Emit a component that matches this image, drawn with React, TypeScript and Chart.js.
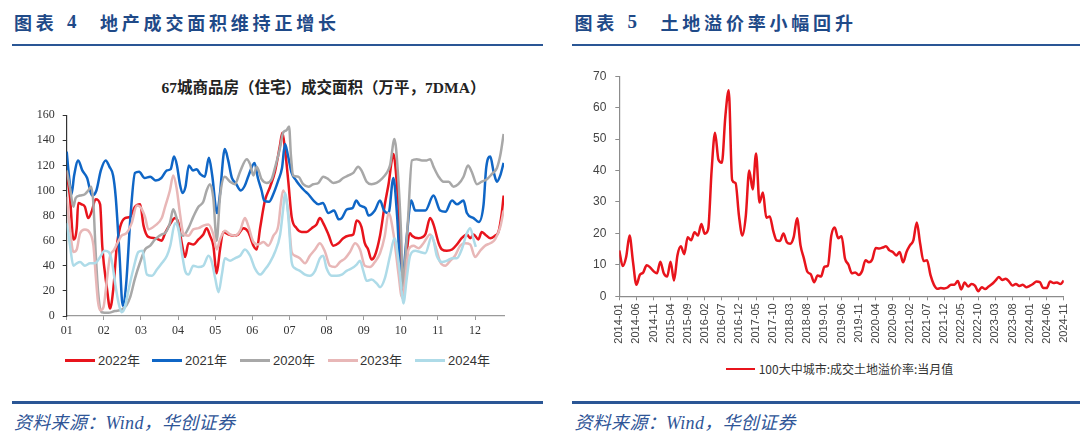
import React, { useEffect, useRef } from 'react';
import { Chart, registerables } from 'chart.js';

Chart.register(...registerables);

// ---------- Left chart: 67城商品房（住宅）成交面积（万平，7DMA） ----------
const monthLabels = ['01', '02', '03', '04', '05', '06', '07', '08', '09', '10', '11', '12'];
const seriesNames = ['2022年', '2021年', '2020年', '2023年', '2024年'];

// x positions are in "months since Jan 1" (0 = 01, 11 = 12)
const x2022 = [0, 0.09, 0.18, 0.27, 0.31, 0.4, 0.49, 0.58, 0.67, 0.78, 0.9, 0.96, 1.08, 1.17, 1.26, 1.35, 1.44, 1.57, 1.71, 1.84, 1.98, 2.07, 2.2, 2.38, 2.56, 2.65, 2.78, 2.92, 3.01, 3.1, 3.19, 3.28, 3.41, 3.55, 3.68, 3.77, 3.86, 3.95, 4.04, 4.13, 4.22, 4.35, 4.49, 4.62, 4.76, 4.89, 5.03, 5.12, 5.21, 5.34, 5.48, 5.61, 5.74, 5.81, 5.88, 5.97, 6.06, 6.19, 6.33, 6.46, 6.6, 6.73, 6.82, 6.91, 7.05, 7.18, 7.32, 7.45, 7.59, 7.72, 7.81, 7.94, 8.03, 8.12, 8.21, 8.3, 8.44, 8.57, 8.67, 8.8, 8.89, 8.98, 9.03, 9.12, 9.25, 9.3, 9.48, 9.66, 9.79, 9.88, 10.02, 10.11, 10.24, 10.38, 10.51, 10.64, 10.78, 10.87, 10.96, 11.09, 11.18, 11.27, 11.41, 11.54, 11.63, 11.72, 11.77];
const y2022 = [115, 94, 61, 70, 90, 89, 87, 78, 83, 93, 89, 55, 23, 6, 23, 56, 71, 78, 79, 87, 89, 72, 63, 62, 60, 66, 73, 78, 74, 58, 47, 58, 57, 61, 65, 70, 64, 56, 34, 53, 67, 65, 64, 65, 70, 67, 56, 53, 70, 92, 103, 115, 135, 146, 133, 107, 79, 70, 67, 67, 70, 73, 78, 74, 65, 56, 58, 62, 64, 65, 76, 71, 58, 53, 45, 48, 64, 89, 105, 129, 107, 64, 15, 40, 66, 64, 62, 65, 78, 73, 58, 53, 52, 53, 57, 62, 65, 62, 65, 61, 67, 65, 62, 64, 67, 82, 96];

const x2021 = [0, 0.06, 0.13, 0.2, 0.31, 0.42, 0.55, 0.68, 0.8, 0.92, 1.05, 1.15, 1.25, 1.32, 1.42, 1.51, 1.6, 1.72, 1.84, 1.95, 2.1, 2.25, 2.4, 2.55, 2.7, 2.8, 2.89, 2.97, 3.05, 3.12, 3.2, 3.29, 3.4, 3.5, 3.6, 3.72, 3.83, 3.92, 4.05, 4.12, 4.26, 4.35, 4.45, 4.55, 4.69, 4.8, 4.9, 5.06, 5.15, 5.25, 5.32, 5.45, 5.55, 5.7, 5.8, 5.88, 5.96, 6.06, 6.18, 6.28, 6.4, 6.51, 6.65, 6.78, 6.9, 7.05, 7.2, 7.33, 7.41, 7.55, 7.7, 7.8, 7.9, 8.05, 8.13, 8.3, 8.44, 8.55, 8.67, 8.8, 8.9, 9.02, 9.15, 9.28, 9.39, 9.55, 9.66, 9.88, 10.06, 10.2, 10.38, 10.51, 10.69, 10.78, 10.96, 11.1, 11.23, 11.3, 11.41, 11.5, 11.59, 11.68, 11.77];
const y2021 = [131, 112, 97, 112, 124, 116, 110, 96, 100, 116, 124, 119, 112, 95, 50, 8, 25, 80, 114, 115, 110, 111, 108, 110, 116, 117, 127, 120, 105, 98, 103, 120, 116, 117, 113, 111, 126, 112, 82, 95, 133, 124, 110, 106, 100, 104, 112, 122, 110, 100, 92, 91, 96, 108, 118, 137, 128, 114, 108, 104, 100, 97, 92, 89, 90, 82, 84, 77, 78, 85, 86, 92, 88, 86, 80, 84, 92, 84, 82, 110, 80, 23, 60, 92, 84, 84, 84, 96, 84, 83, 92, 89, 92, 82, 78, 75, 89, 118, 127, 115, 107, 112, 122];

const x2020 = [0, 0.09, 0.18, 0.24, 0.36, 0.49, 0.58, 0.66, 0.72, 0.78, 0.85, 0.94, 1.12, 1.3, 1.48, 1.61, 1.71, 1.84, 1.98, 2.11, 2.25, 2.38, 2.56, 2.65, 2.78, 2.87, 2.96, 3.05, 3.14, 3.28, 3.41, 3.55, 3.68, 3.77, 3.86, 3.95, 4.04, 4.13, 4.26, 4.4, 4.53, 4.67, 4.85, 4.94, 5.03, 5.12, 5.25, 5.39, 5.52, 5.61, 5.74, 5.83, 5.92, 5.99, 6.04, 6.1, 6.24, 6.37, 6.51, 6.64, 6.78, 6.91, 7.05, 7.18, 7.32, 7.45, 7.59, 7.72, 7.85, 7.94, 8.08, 8.21, 8.35, 8.48, 8.62, 8.71, 8.83, 8.92, 9.01, 9.06, 9.12, 9.19, 9.3, 9.43, 9.57, 9.7, 9.79, 9.88, 10.02, 10.15, 10.29, 10.42, 10.55, 10.69, 10.81, 10.91, 11.05, 11.18, 11.32, 11.45, 11.59, 11.68, 11.77];
const y2020 = [116, 102, 87, 94, 96, 97, 100, 103, 89, 51, 18, 3, 2.5, 4, 5, 8.5, 15, 30, 43, 53, 56, 61, 65, 66, 74, 85, 78, 66, 64, 70, 79, 87, 91, 100, 105, 94, 60, 95, 111, 107, 105, 115, 125, 121, 112, 119, 109, 106, 109, 118, 133, 146, 148, 151, 128, 112, 111, 105, 103, 105, 106, 111, 109, 106, 107, 110, 112, 114, 119, 116, 107, 105, 106, 109, 114, 120, 141, 115, 64, 22, 45, 75, 124, 125, 124, 124, 125, 119, 111, 107, 107, 103, 105, 111, 120, 115, 105, 107, 109, 113, 118, 128, 145];

const x2023 = [0, 0.09, 0.18, 0.27, 0.36, 0.49, 0.63, 0.72, 0.78, 0.84, 0.9, 0.99, 1.08, 1.17, 1.26, 1.35, 1.48, 1.61, 1.75, 1.89, 1.98, 2.11, 2.2, 2.38, 2.56, 2.65, 2.78, 2.87, 2.96, 3.05, 3.14, 3.28, 3.41, 3.55, 3.68, 3.82, 3.95, 4.04, 4.13, 4.26, 4.4, 4.53, 4.67, 4.8, 4.89, 5.03, 5.16, 5.3, 5.43, 5.57, 5.7, 5.77, 5.83, 5.97, 6.06, 6.15, 6.28, 6.42, 6.55, 6.69, 6.82, 6.96, 7.09, 7.23, 7.36, 7.5, 7.63, 7.77, 7.9, 8.03, 8.17, 8.3, 8.44, 8.57, 8.67, 8.8, 8.94, 9.03, 9.12, 9.21, 9.34, 9.48, 9.61, 9.79, 9.93, 10.06, 10.2, 10.33, 10.46, 10.6, 10.73, 10.87, 11.0, 11.14, 11.27, 11.41, 11.54, 11.68, 11.77];
const y2023 = [95, 69, 51, 53, 66, 69, 66, 56, 33, 12, 4.6, 7, 28, 48, 52, 57, 64, 66, 74, 88, 87, 79, 69, 72, 78, 87, 100, 112, 102, 82, 66, 64, 69, 70, 72, 73, 65, 53, 61, 68, 65, 64, 68, 78, 72, 59, 57, 59, 56, 64, 72, 90, 100, 82, 51, 48, 46, 42, 48, 53, 58, 51, 40, 39, 43, 46, 51, 58, 53, 40, 39, 43, 50, 64, 82, 66, 33, 15, 28, 53, 56, 54, 58, 65, 56, 43, 40, 44, 48, 56, 58, 57, 47, 52, 56, 58, 61, 71, 84];

const x2024 = [0, 0.09, 0.18, 0.27, 0.36, 0.49, 0.63, 0.76, 0.9, 1.02, 1.13, 1.22, 1.31, 1.4, 1.48, 1.57, 1.66, 1.8, 1.93, 2.04, 2.16, 2.29, 2.43, 2.56, 2.7, 2.79, 2.92, 3.01, 3.1, 3.19, 3.28, 3.41, 3.55, 3.68, 3.82, 3.91, 4.0, 4.09, 4.18, 4.26, 4.4, 4.53, 4.67, 4.8, 4.94, 5.07, 5.21, 5.34, 5.48, 5.61, 5.75, 5.83, 5.88, 5.97, 6.06, 6.15, 6.28, 6.42, 6.55, 6.69, 6.82, 6.91, 7.0, 7.14, 7.27, 7.41, 7.54, 7.68, 7.81, 7.9, 7.99, 8.08, 8.21, 8.35, 8.44, 8.57, 8.71, 8.83, 8.94, 9.03, 9.07, 9.16, 9.25, 9.39, 9.52, 9.66, 9.84, 9.97, 10.11, 10.24, 10.38, 10.51, 10.64, 10.78, 10.87, 10.96, 11.02];
const y2024 = [74, 56, 40, 42, 43, 40, 42, 42, 47, 52, 51, 43, 25, 10, 3, 7, 20, 38, 51, 52, 33, 32, 37, 42, 48, 56, 74, 69, 51, 36, 33, 40, 39, 40, 48, 43, 30, 19, 33, 46, 44, 46, 48, 53, 48, 38, 33, 37, 43, 51, 65, 85, 98, 79, 43, 38, 36, 33, 32, 36, 46, 48, 38, 32, 32, 33, 36, 38, 41, 44, 36, 28, 29, 26, 23, 30, 48, 62, 43, 18, 10, 30, 48, 52, 51, 50, 64, 48, 43, 44, 46, 46, 53, 66, 70, 61, 55];

const leftYTicks = [0, 20, 40, 60, 80, 100, 120, 140, 160];

// ---------- Right chart: 100大中城市:成交土地溢价率:当月值 (2014-01 .. 2024-11, monthly) ----------
const landTickLabels = ['2014-01', '2014-06', '2014-11', '2015-04', '2015-09', '2016-02', '2016-07', '2016-12', '2017-05', '2017-10', '2018-03', '2018-08', '2019-01', '2019-06', '2019-11', '2020-04', '2020-09', '2021-02', '2021-07', '2021-12', '2022-05', '2022-10', '2023-03', '2023-08', '2024-01', '2024-06', '2024-11'];
const landPremium = [14.6, 9.6, 12.5, 19.3, 11, 3.7, 6.8, 7.6, 9.9, 9.2, 8, 7.3, 11, 7.3, 6.3, 11, 5, 13, 15.9, 13.4, 18.8, 17.8, 20.4, 19.3, 23, 19.9, 21.4, 40, 52, 43.4, 42.5, 57, 65.5, 37, 36, 25.6, 19.3, 25.6, 40, 34, 45.4, 29.8, 33, 25, 25.4, 20.9, 17.8, 17.6, 20, 17.2, 16.7, 18.8, 24.8, 16.2, 12, 7.8, 7, 4.5, 6.6, 6.3, 9.4, 9.7, 19.3, 21.9, 18.5, 19.1, 12, 10.1, 7.3, 7.6, 6.8, 8, 11.5, 10.8, 11.8, 15.4, 15.2, 15.5, 15.9, 14.6, 14.1, 13, 14.1, 10.8, 14.1, 16.2, 17.8, 23.5, 16.7, 11.2, 11.5, 6.8, 3.7, 2.4, 2.6, 2.5, 2.8, 3.7, 3.7, 4.9, 2.2, 4.4, 3.1, 3.9, 3.4, 1.6, 2.9, 2.3, 3.1, 3.9, 5, 6.1, 5.2, 5.6, 4.7, 3.4, 3.9, 3.3, 3.7, 2.9, 3.3, 3.9, 4.7, 4.5, 2.6, 2.6, 4.7, 4.2, 4.4, 3.9, 5];
const landSeriesName = '100大中城市:成交土地溢价率:当月值';

const leftColors = ['#e8141c', '#0f66c6', '#a8a8a8', '#e8b7b7', '#aedbe8'];
const serif = '"Liberation Serif", "Times New Roman", "Noto Sans CJK SC", serif';
const sans = '"Liberation Sans", Arial, "Noto Sans CJK SC", sans-serif';
const cjk = '"Noto Sans CJK SC", "Liberation Sans", sans-serif';

function LeftChart() {
  const ref = useRef<HTMLCanvasElement>(null);
  useEffect(() => {
    const xs = [x2022, x2021, x2020, x2023, x2024];
    const ys = [y2022, y2021, y2020, y2023, y2024];
    const chart = new Chart(ref.current as HTMLCanvasElement, {
      type: 'line',
      data: {
        datasets: seriesNames.map((name, k) => ({
          label: name,
          data: xs[k].map((x, i) => ({ x, y: ys[k][i] })),
          borderColor: leftColors[k],
          backgroundColor: leftColors[k],
          borderWidth: 2.5,
          pointRadius: 0,
          cubicInterpolationMode: 'monotone' as const,
          fill: false,
          order: seriesNames.length - k,
        })),
      },
      options: {
        responsive: false,
        animation: false,
        events: [],
        layout: { padding: { left: 0, right: 36, top: 8.3, bottom: 0 } },
        plugins: { legend: { display: false }, title: { display: false }, tooltip: { enabled: false } },
        scales: {
          x: {
            type: 'linear',
            min: 0,
            max: 11.78,
            afterFit: (s: any) => { s.height = 29; },
            grid: { display: true, drawOnChartArea: false, drawTicks: true, tickLength: 4, color: '#9a9a9a' },
            border: { display: true, color: '#9a9a9a', width: 1.2 },
            ticks: {
              stepSize: 1,
              includeBounds: false,
              autoSkip: false,
              maxRotation: 0,
              padding: 4,
              color: '#333',
              font: { family: serif, size: 12 },
              callback: (v: any) => monthLabels[Math.round(Number(v))] ?? '',
            },
          },
          y: {
            min: leftYTicks[0],
            max: leftYTicks[leftYTicks.length - 1],
            afterFit: (s: any) => { s.width = 66.7; },
            grid: { display: true, drawOnChartArea: false, drawTicks: true, tickLength: 4, color: '#333' },
            border: { display: true, color: '#333', width: 1.2 },
            ticks: { stepSize: 20, padding: 8, color: '#333', font: { family: serif, size: 12 } },
          },
        },
      },
    });
    return () => chart.destroy();
  }, []);
  return <canvas ref={ref} width={540} height={245} style={{ position: 'absolute', left: 0, top: 100 }} />;
}

function RightChart() {
  const ref = useRef<HTMLCanvasElement>(null);
  useEffect(() => {
    const chart = new Chart(ref.current as HTMLCanvasElement, {
      type: 'line',
      data: {
        datasets: [
          {
            label: landSeriesName,
            data: landPremium.map((v, i) => ({ x: i, y: v })),
            borderColor: '#e8141c',
            backgroundColor: '#e8141c',
            borderWidth: 2.5,
            pointRadius: 0,
            cubicInterpolationMode: 'monotone' as const,
            fill: false,
          },
        ],
      },
      options: {
        responsive: false,
        animation: false,
        events: [],
        layout: { padding: { left: 0, right: 10.5, top: 13.3, bottom: 0 } },
        plugins: { legend: { display: false }, title: { display: false }, tooltip: { enabled: false } },
        scales: {
          x: {
            type: 'linear',
            min: 0,
            max: landPremium.length - 1,
            afterFit: (s: any) => { s.height = 63.7; },
            grid: { display: true, drawOnChartArea: false, drawTicks: true, tickLength: 4, color: '#8c8c8c' },
            border: { display: true, color: '#8c8c8c', width: 1.2 },
            ticks: {
              stepSize: 5,
              includeBounds: false,
              autoSkip: false,
              minRotation: 90,
              maxRotation: 90,
              padding: 3,
              color: '#444',
              font: { family: sans, size: 11 },
              callback: (v: any) => landTickLabels[Math.round(Number(v) / 5)] ?? '',
            },
          },
          y: {
            min: 0,
            max: 70,
            afterFit: (s: any) => { s.width = 79.3; },
            grid: { display: true, drawOnChartArea: false, drawTicks: true, tickLength: 4, color: '#8c8c8c' },
            border: { display: true, color: '#8c8c8c', width: 1.2 },
            ticks: { stepSize: 10, padding: 9, color: '#444', font: { family: sans, size: 12 } },
          },
        },
      },
    });
    return () => chart.destroy();
  }, []);
  return <canvas ref={ref} width={540} height={300} style={{ position: 'absolute', left: 540, top: 60 }} />;
}

const headBlue = '#1f4a88';
const lineBlue = '#2a5695';
const footBlue = '#2f5597';

const abs = (left: number, top: number, extra: React.CSSProperties = {}): React.CSSProperties => ({
  position: 'absolute',
  left,
  top,
  whiteSpace: 'nowrap',
  ...extra,
});

function Header({ x, num, title, lineLeft, lineRight }: { x: number; num: string; title: string; lineLeft: number; lineRight: number }) {
  const font: React.CSSProperties = { fontFamily: cjk, fontWeight: 700, fontSize: 18, lineHeight: '18px', color: headBlue, letterSpacing: '3.8px' };
  return (
    <>
      <div style={abs(x, 13, font)}>图表</div>
      <div style={abs(x + 53, 13, { ...font, fontFamily: serif, fontSize: 19 })}>{num}</div>
      <div style={abs(x + 86, 13, font)}>{title}</div>
      <div style={abs(lineLeft, 43.5, { width: lineRight - lineLeft, height: 2.5, background: lineBlue })} />
    </>
  );
}

function Footer({ x, lineLeft, lineRight }: { x: number; lineLeft: number; lineRight: number }) {
  return (
    <>
      <div style={abs(lineLeft, 401.3, { width: lineRight - lineLeft, height: 2.5, background: lineBlue })} />
      <div
        style={abs(x, 414, {
          fontFamily: '"Liberation Serif", "Noto Sans CJK SC", serif',
          fontStyle: 'italic',
          fontSize: 18,
          lineHeight: '18px',
          color: footBlue,
          letterSpacing: '0.3px',
        })}
      >
        资料来源：Wind，华创证券
      </div>
    </>
  );
}

const leftLegendPos = [
  { line: 65, text: 98 },
  { line: 152, text: 185 },
  { line: 240, text: 273 },
  { line: 328, text: 360 },
  { line: 415, text: 448 },
];

export default function App() {
  return (
    <div style={{ position: 'absolute', left: 0, top: 0, width: 1080, height: 445, background: '#fff', overflow: 'hidden' }}>
      <Header x={14} num="4" title="地产成交面积维持正增长" lineLeft={12} lineRight={543} />
      <Header x={574.5} num="5" title="土地溢价率小幅回升" lineLeft={572} lineRight={1080} />

      {/* left chart title */}
      <div
        style={abs(23.5, 80.4, {
          width: 600,
          textAlign: 'center',
          fontFamily: serif,
          fontWeight: 700,
          fontSize: 15.5,
          lineHeight: '15.5px',
          color: '#222',
        })}
      >
        67城商品房（住宅）成交面积（万平，7DMA）
      </div>
      <LeftChart />
      {seriesNames.map((name, k) => (
        <React.Fragment key={name}>
          <div style={abs(leftLegendPos[k].line, 359.3, { width: 30, height: 2.5, background: leftColors[k] })} />
          <div style={abs(leftLegendPos[k].text, 353.5, { fontFamily: sans, fontSize: 13, lineHeight: '13px', color: '#333' })}>{name}</div>
        </React.Fragment>
      ))}

      <RightChart />
      <div style={abs(726, 367.8, { width: 28.5, height: 2.5, background: '#e8141c' })} />
      <div style={abs(758.7, 362.5, { fontFamily: cjk, fontSize: 12, lineHeight: '12px', color: '#333' })}>{landSeriesName}</div>

      <Footer x={14} lineLeft={12} lineRight={543} />
      <Footer x={574.5} lineLeft={572} lineRight={1080} />
    </div>
  );
}
